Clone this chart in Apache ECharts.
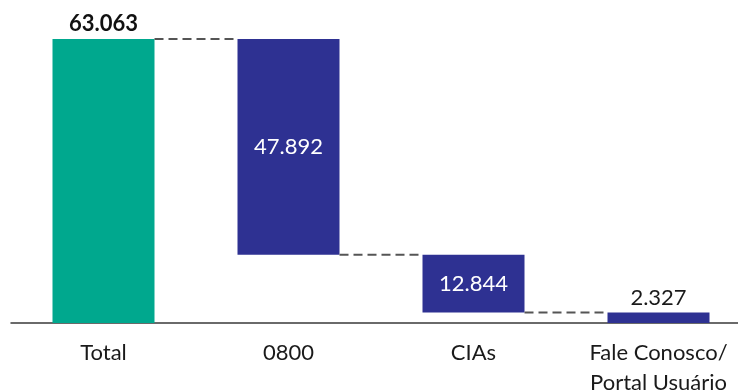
<!DOCTYPE html>
<html>
<head>
<meta charset="utf-8">
<script src="https://cdn.jsdelivr.net/npm/echarts@6/dist/echarts.min.js"></script>
<style>
  html, body { margin: 0; padding: 0; background: #fff; }
  #chart { width: 738px; height: 392px; }
</style>
</head>
<body>
<div id="chart"></div>
<script>
// Waterfall: total contacts broken down by channel
const categories = ['Total', '0800', 'CIAs', 'Fale Conosco/\nPortal Usuário'];
const values = [63.063, 47.892, 12.844, 2.327];
const valueLabels = ['63.063', '47.892', '12.844', '2.327'];

// Invisible base under each step: the total stands on zero,
// each channel hangs from what remains after the previous ones.
const bases = [];
let remaining = values[0];
bases.push(0);
for (let i = 1; i < values.length; i++) {
  remaining -= values[i];
  bases.push(Math.max(0, +remaining.toFixed(3)));
}
const tops = values.map((v, i) => bases[i] + v);

const GREEN = '#00A88E';
const BLUE = '#2E3192';
const FONT = 'Lato';
const BAR_W = 102;

const chart = echarts.init(document.getElementById('chart'));

chart.setOption({
  animation: false,
  backgroundColor: '#ffffff',
  grid: {
    left: 11, width: 740, top: 39, bottom: 69,
    containLabel: false,
    outerBoundsMode: 'none'
  },
  xAxis: {
    type: 'category',
    data: categories,
    axisLine: { show: true, lineStyle: { color: '#3a3a3a', width: 1.5 } },
    axisTick: { show: false },
    axisLabel: {
      interval: 0,
      margin: 15,
      fontFamily: FONT,
      fontSize: 22,
      lineHeight: 30,
      color: '#1a1a1a'
    }
  },
  yAxis: {
    type: 'value',
    min: 0,
    max: values[0],
    show: false,
    splitLine: { show: false }
  },
  series: [
    {
      name: 'base',
      type: 'bar',
      stack: 'wf',
      barWidth: BAR_W,
      silent: true,
      itemStyle: { color: 'transparent' },
      data: bases
    },
    {
      name: 'valor',
      type: 'bar',
      stack: 'wf',
      barWidth: BAR_W,
      data: values.map((v, i) => {
        const item = {
          value: v,
          itemStyle: { color: i === 0 ? GREEN : BLUE }
        };
        if (i === 0) {
          item.label = {
            show: true, position: 'top', distance: 4,
            fontFamily: FONT, fontSize: 22, fontWeight: 'bold', color: '#111'
          };
        } else if (i === values.length - 1) {
          item.label = {
            show: true, position: 'top', distance: 4,
            fontFamily: FONT, fontSize: 22, color: '#1a1a1a'
          };
        } else {
          item.label = {
            show: true, position: 'inside',
            fontFamily: FONT, fontSize: 22, color: '#ffffff'
          };
        }
        return item;
      }),
      label: {
        formatter: p => valueLabels[p.dataIndex]
      }
    },
    {
      // dashed connectors from each bar's lower edge to the next bar
      name: 'conectores',
      type: 'custom',
      silent: true,
      z: 5,
      data: values.slice(0, -1).map((v, i) => [i, i === 0 ? tops[0] : bases[i]]),
      renderItem: function (params, api) {
        const i = api.value(0);
        const level = api.value(1);
        const half = BAR_W / 2;
        const p0 = api.coord([i, level]);
        const p1 = api.coord([i + 1, level]);
        return {
          type: 'line',
          shape: { x1: p0[0] + half, y1: p0[1], x2: p1[0] - half, y2: p1[1] },
          style: { stroke: '#555555', lineWidth: 2, lineDash: [9, 5] }
        };
      }
    }
  ]
});
</script>
</body>
</html>
